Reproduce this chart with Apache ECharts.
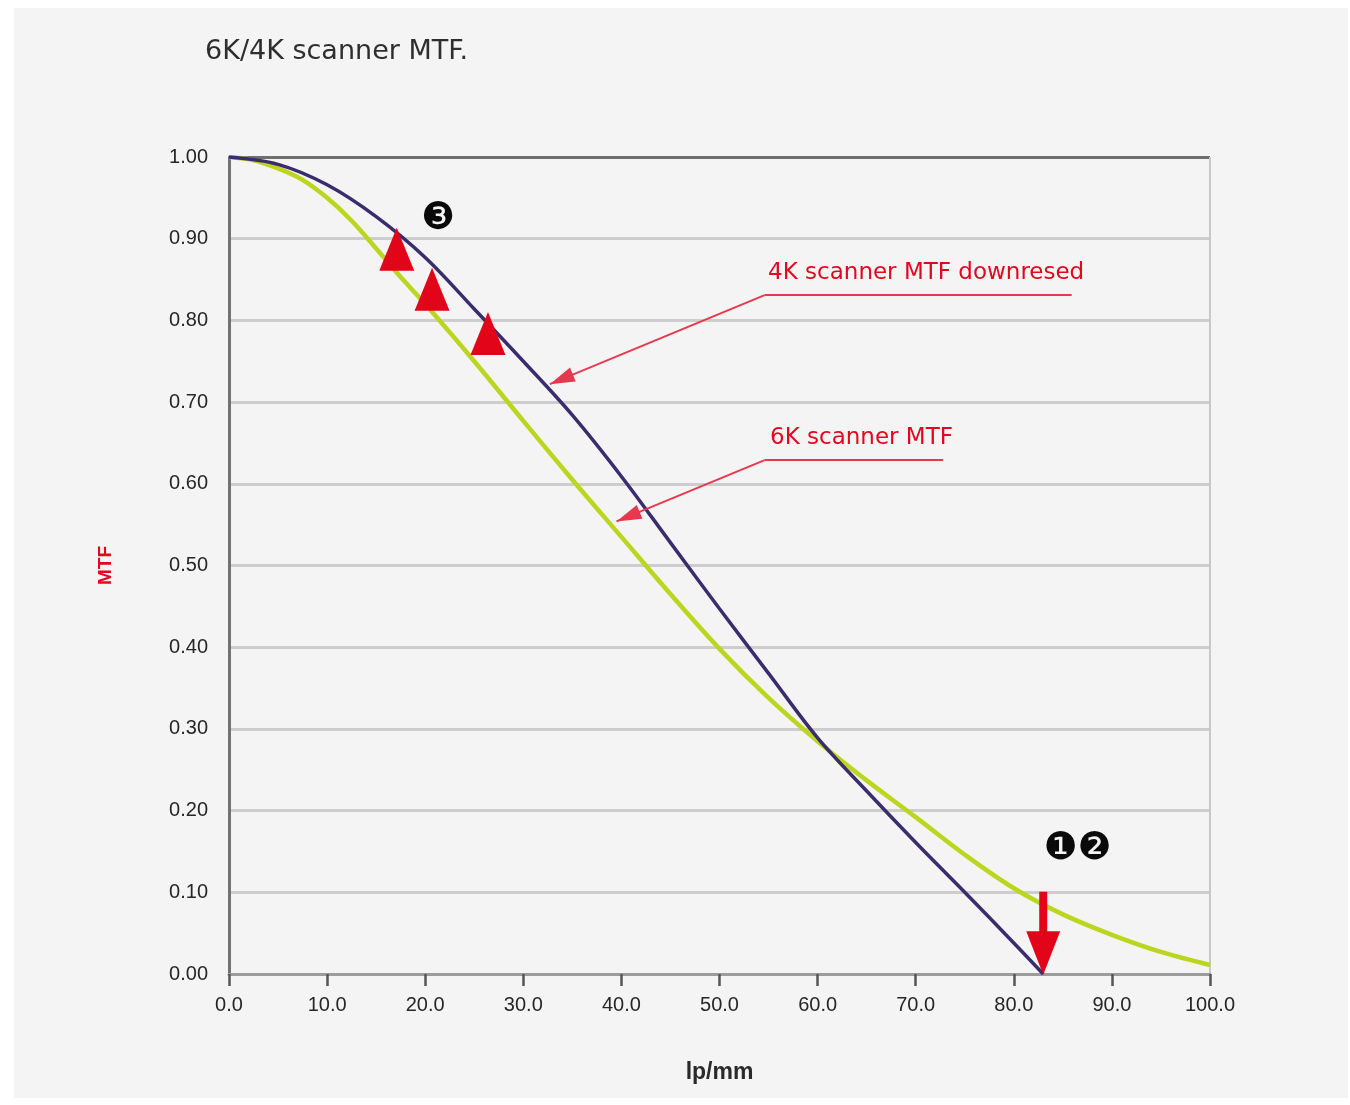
<!DOCTYPE html>
<html>
<head>
<meta charset="utf-8">
<title>6K/4K scanner MTF</title>
<script src="https://cdn.jsdelivr.net/npm/echarts@6/dist/echarts.min.js"></script>
<style>
  html, body { margin: 0; padding: 0; background: #ffffff; }
  #chart { width: 1350px; height: 1105px; }
</style>
</head>
<body>
<div id="chart"></div>
<script>
// Spatial frequency samples (lp/mm) and MTF values for each scanner
const lp4K  = [0, 5, 10, 15, 20, 25, 30, 35, 40, 45, 50, 55, 60, 65, 70, 75, 80, 83];
const mtf4K = [1.000, 0.991, 0.966, 0.927, 0.877, 0.814, 0.750, 0.684, 0.609, 0.528, 0.447, 0.368, 0.289, 0.224, 0.161, 0.100, 0.038, 0.000];

const lp6K  = [0, 2.5, 5, 7.5, 10, 12.5, 15, 17.5, 20, 25, 30, 35, 40, 45, 50, 55, 60, 65, 70, 75, 80, 85, 90, 95, 100];
const mtf6K = [1.000, 0.996, 0.986, 0.972, 0.950, 0.922, 0.888, 0.853, 0.820, 0.750, 0.677, 0.605, 0.535, 0.465, 0.398, 0.338, 0.285, 0.237, 0.192, 0.146, 0.105, 0.073, 0.048, 0.027, 0.011];

// Tick labels
const xTickLabels = ['0.0', '10.0', '20.0', '30.0', '40.0', '50.0', '60.0', '70.0', '80.0', '90.0', '100.0'];
const yTickLabels = ['0.00', '0.10', '0.20', '0.30', '0.40', '0.50', '0.60', '0.70', '0.80', '0.90', '1.00'];

// Red up-triangles between the curves (lp/mm, MTF)
const gainMarkers = [[17.1, 0.887], [20.7, 0.838], [26.4, 0.784]];

// 4K cut-off: arrow from MTF 0.10 down to 0 at 83 lp/mm
const cutoffLp = 83;
const cutoffFrom = 0.10;
const cutoffTo = 0.00;

// Callout texts, their anchors, underline ends and arrow targets
const callout4K = { text: '4K scanner MTF downresed', at: [54.9, 0.858], lineFrom: [54.6, 0.831], lineTo: [85.9, 0.831], target: [32.7, 0.722] };
const callout6K = { text: '6K scanner MTF', at: [55.1, 0.656], lineFrom: [54.6, 0.629], lineTo: [72.8, 0.629], target: [39.5, 0.554] };

// Numbered notes
const noteMarks = [
  { name: '\u2778', value: [21.3, 0.924] },
  { name: '\u2776\u2777', value: [86.5, 0.153] }
];

const RED = '#e3061f';
const zip = (xs, ys) => xs.map((x, i) => [x, ys[i]]);

const chart = echarts.init(document.getElementById('chart'), null, { renderer: 'canvas' });

function leader(c) {
  return [
    [{ coord: c.lineFrom }, { coord: c.lineTo }],
    [{ coord: c.lineFrom }, { coord: c.target, symbol: 'triangle', symbolSize: [15, 25], symbolOffset: [0, '50%'] }]
  ];
}

const option = {
  backgroundColor: '#ffffff',
  animation: false,
  graphic: [{
    type: 'rect',
    silent: true,
    z: -10,
    shape: { x: 14, y: 8, width: 1334, height: 1090 },
    style: { fill: '#f4f4f4' }
  }],
  title: {
    text: '6K/4K scanner MTF.',
    left: 200,
    top: 33,
    textStyle: { fontFamily: 'DejaVu Sans', fontSize: 27, fontWeight: 'normal', color: '#2e2e2e' }
  },
  grid: { left: 229, right: 140, top: 157, bottom: 131 },
  xAxis: {
    type: 'value',
    min: 0,
    max: 100,
    interval: 10,
    name: 'lp/mm',
    nameLocation: 'middle',
    nameGap: 87,
    nameTextStyle: { fontFamily: 'Liberation Sans', fontWeight: 'bold', fontSize: 23, color: '#2a2a2a' },
    axisLine: { show: true, lineStyle: { color: '#9c9c9c', width: 3 } },
    axisTick: { show: true, length: 12, lineStyle: { color: '#555555', width: 2.5 } },
    axisLabel: {
      margin: 21,
      fontFamily: 'Liberation Sans',
      fontSize: 20,
      color: '#262626',
      formatter: v => xTickLabels[Math.round(v / 10)]
    },
    splitLine: {
      show: true,
      lineStyle: {
        color: ['transparent', 'transparent', 'transparent', 'transparent', 'transparent',
                'transparent', 'transparent', 'transparent', 'transparent', 'transparent', '#c8c8c8'],
        width: 2
      }
    }
  },
  yAxis: {
    type: 'value',
    min: 0,
    max: 1,
    interval: 0.1,
    name: 'MTF',
    nameLocation: 'middle',
    nameGap: 114,
    nameTextStyle: { fontFamily: 'Liberation Sans', fontWeight: 'bold', fontSize: 19, color: RED },
    axisLine: { show: true, lineStyle: { color: '#727272', width: 3 } },
    axisTick: { show: false },
    axisLabel: {
      margin: 21,
      fontFamily: 'Liberation Sans',
      fontSize: 20,
      color: '#262626',
      formatter: v => yTickLabels[Math.round(v * 10)]
    },
    splitLine: {
      show: true,
      lineStyle: {
        color: ['#cdcdcd', '#cdcdcd', '#cdcdcd', '#cdcdcd', '#cdcdcd', '#cdcdcd',
                '#cdcdcd', '#cdcdcd', '#cdcdcd', '#cdcdcd', '#6e6e6e'],
        width: 3
      }
    }
  },
  series: [
    {
      name: '6K scanner MTF',
      type: 'line',
      data: zip(lp6K, mtf6K),
      smooth: 0.35,
      symbol: 'none',
      lineStyle: { color: '#bcd51f', width: 4.5 },
      z: 3
    },
    {
      name: '4K scanner MTF downresed',
      type: 'line',
      data: zip(lp4K, mtf4K),
      smooth: 0.35,
      symbol: 'none',
      lineStyle: { color: '#3b2d6d', width: 3.5 },
      z: 4
    },
    {
      name: 'gain',
      type: 'scatter',
      data: gainMarkers,
      symbol: 'triangle',
      symbolSize: [35, 43],
      itemStyle: { color: '#e2051a', opacity: 1 },
      silent: true,
      z: 5
    },
    {
      name: 'cutoff',
      type: 'scatter',
      data: [[cutoffLp, (cutoffFrom + cutoffTo) / 2]],
      symbol: 'path://M13,0 L21,0 L21,40 L34,40 L17,84 L0,40 L13,40 Z',
      symbolSize: [34, 83],
      symbolKeepAspect: false,
      itemStyle: { color: '#e2051a', opacity: 1 },
      silent: true,
      z: 6
    },
    {
      name: 'callouts',
      type: 'scatter',
      data: [
        { name: callout4K.text, value: callout4K.at },
        { name: callout6K.text, value: callout6K.at }
      ],
      symbolSize: 1,
      itemStyle: { color: 'rgba(0,0,0,0)', opacity: 1 },
      label: {
        show: true,
        position: 'right',
        distance: 0,
        formatter: '{b}',
        fontFamily: 'DejaVu Sans',
        fontSize: 23,
        color: RED
      },
      markLine: {
        silent: true,
        symbol: ['none', 'none'],
        label: { show: false },
        lineStyle: { color: '#e8384e', width: 2, type: 'solid', opacity: 1 },
        itemStyle: { color: '#e3061f' },
        data: leader(callout4K).concat(leader(callout6K))
      },
      silent: true,
      z: 6
    },
    {
      name: 'notes',
      type: 'scatter',
      data: noteMarks,
      symbolSize: 1,
      itemStyle: { color: 'rgba(0,0,0,0)', opacity: 1 },
      label: {
        show: true,
        position: 'inside',
        formatter: '{b}',
        fontFamily: 'DejaVu Sans',
        fontSize: 38,
        color: '#0a0a0a'
      },
      silent: true,
      z: 6
    }
  ]
};

chart.setOption(option);
</script>
</body>
</html>
